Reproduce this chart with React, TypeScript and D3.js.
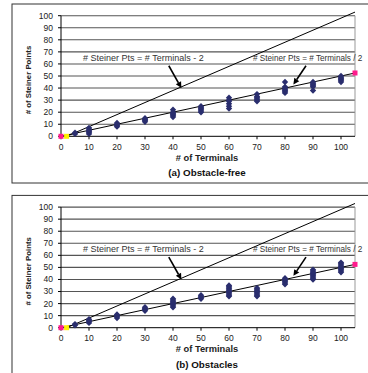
import React from "react";
import * as d3 from "d3";

// terminal counts tested
const terminals = [5, 10, 20, 30, 40, 50, 60, 70, 80, 90, 100];

// steiner point counts per terminal count, (a) obstacle-free
const steinerFree = [
  [2, 3],
  [2, 3, 4, 5, 6, 7],
  [8, 9, 10, 11],
  [12, 13, 14, 15],
  [16, 17, 18, 19, 20, 22],
  [20, 21, 22, 23, 24, 25],
  [23, 25, 27, 29, 30, 32],
  [29, 30, 31, 32, 33, 35],
  [36, 37, 38, 39, 40, 41, 45],
  [38, 41, 42, 43, 44, 45],
  [45, 46, 47, 48, 49, 50],
];

// (b) obstacles
const steinerObs = [
  [2, 3],
  [4, 5, 6, 7],
  [8, 9, 10, 11],
  [14, 15, 16, 17],
  [17, 18, 19, 20, 21, 22, 23, 24],
  [24, 25, 26, 27],
  [26, 27, 28, 29, 30, 31, 32, 33, 34, 35],
  [26, 27, 28, 29, 30, 31, 32, 33],
  [36, 37, 38, 39, 40, 41],
  [40, 41, 42, 43, 44, 45, 46, 47, 48],
  [46, 47, 48, 49, 50, 51, 52, 53, 54],
];

// reference lines (terminals, steiner pts)
const minusTwoLine: [number, number][] = [[2, 0], [105, 103]];
const halfLine: [number, number][] = [[0, 0], [105, 52.5]];

const xTicks = [0, 10, 20, 30, 40, 50, 60, 70, 80, 90, 100];
const yTicks = [0, 10, 20, 30, 40, 50, 60, 70, 80, 90, 100];

const labelMinusTwo = "# Steiner Pts = # Terminals - 2";
const labelHalf = "# Steiner Pts = # Terminals / 2";

const font = "Liberation Sans, Arial, sans-serif";
const diamond = "M0,-3.2L3.2,0L0,3.2L-3.2,0Z";

const Panel = ({ data, top, caption }: { data: number[][]; top: number; caption: string }) => {
  const x = d3.scaleLinear().domain([0, 105]).range([61, 355]);
  const y = d3.scaleLinear().domain([0, 100]).range([top + 132.3, top + 11.7]);
  const line = d3.line<[number, number]>().x((d) => x(d[0])).y((d) => y(d[1]));

  const arrow = (x1: number, y1: number, x2: number, y2: number) => {
    const ang = Math.atan2(y2 - y1, x2 - x1);
    const len = 6, w = 3;
    const bx = x2 - len * Math.cos(ang), by = y2 - len * Math.sin(ang);
    const px = -Math.sin(ang) * w, py = Math.cos(ang) * w;
    return (
      <g>
        <line x1={x1} y1={y1} x2={bx} y2={by} stroke="#000" strokeWidth={1.6} />
        <path d={`M${x2},${y2}L${bx + px},${by + py}L${bx - px},${by - py}Z`} fill="#000" />
      </g>
    );
  };

  return (
    <g>
      <rect x={12} y={top} width={380} height={179} fill="#fff" stroke="#333" strokeWidth={1} />
      {yTicks.slice(1).map((t) => (
        <line key={t} x1={x(0)} x2={x(105)} y1={y(t)} y2={y(t)} stroke="#555" strokeWidth={1.1} />
      ))}
      <line x1={x(105)} x2={x(105)} y1={y(0)} y2={y(100)} stroke="#999" strokeWidth={1} />
      <line x1={x(0)} x2={x(0)} y1={y(0)} y2={y(100)} stroke="#000" strokeWidth={1} />
      <line x1={x(0)} x2={x(105)} y1={y(0)} y2={y(0)} stroke="#000" strokeWidth={1} />
      {yTicks.map((t) => (
        <g key={t}>
          <line x1={x(0) - 3} x2={x(0)} y1={y(t)} y2={y(t)} stroke="#000" />
          <text x={53} y={y(t)} dy="0.35em" textAnchor="end" fontSize={8.5} fill="#222" fontFamily={font}>{t}</text>
        </g>
      ))}
      {xTicks.map((t) => (
        <g key={t}>
          <line x1={x(t)} x2={x(t)} y1={y(0)} y2={y(0) + 3} stroke="#000" />
          <text x={x(t)} y={y(0) + 13.5} textAnchor="middle" fontSize={8.5} fill="#222" fontFamily={font}>{t}</text>
        </g>
      ))}
      <path d={line(minusTwoLine) || ""} fill="none" stroke="#000" strokeWidth={1} />
      <path d={line(halfLine) || ""} fill="none" stroke="#000" strokeWidth={1} />
      {data.map((ys, i) =>
        ys.map((v, j) => (
          <path key={`${i}-${j}`} d={diamond} transform={`translate(${x(terminals[i])},${y(v)})`} fill="#2a2e6e" />
        ))
      )}
      {halfLine.map((p, i) => (
        <rect key={i} x={x(p[0]) - 2.5} y={y(p[1]) - 2.5} width={5} height={5} fill="#ff1a8c" />
      ))}
      <rect x={x(minusTwoLine[0][0]) - 2.5} y={y(0) - 2.5} width={5} height={5} fill="#ffee00" />
      <text x={83} y={y(62.4)} fontSize={9} fill="#333" fontFamily={font}>{labelMinusTwo}</text>
      {arrow(x(38.5), y(58.5), x(43), y(40))}
      <text x={253} y={y(62.4)} fontSize={8.2} fill="#333" fontFamily={font}>{labelHalf}</text>
      {arrow(x(87.5), y(58.5), x(83), y(43))}
      <text x={207} y={y(0) + 24.5} textAnchor="middle" fontSize={9.3} fontWeight="bold" fill="#222" fontFamily={font}>
        # of Terminals
      </text>
      <text x={207} y={y(0) + 40} textAnchor="middle" fontSize={9.8} fontWeight="bold" fill="#111" fontFamily={font}>
        {caption}
      </text>
      <text
        transform={`translate(${31},${y(50) + 4}) rotate(-90)`}
        textAnchor="middle"
        fontSize={7.8}
        fontWeight="bold"
        fill="#222"
        fontFamily={font}
      >
        # of Steiner Points
      </text>
    </g>
  );
};

export default function App() {
  return (
    <svg
      width={368}
      height={373}
      style={{ position: "absolute", left: 0, top: 0, background: "#fff" }}
    >
      <Panel data={steinerFree} top={4} caption="(a) Obstacle-free" />
      <Panel data={steinerObs} top={195.4} caption="(b) Obstacles" />
    </svg>
  );
}
